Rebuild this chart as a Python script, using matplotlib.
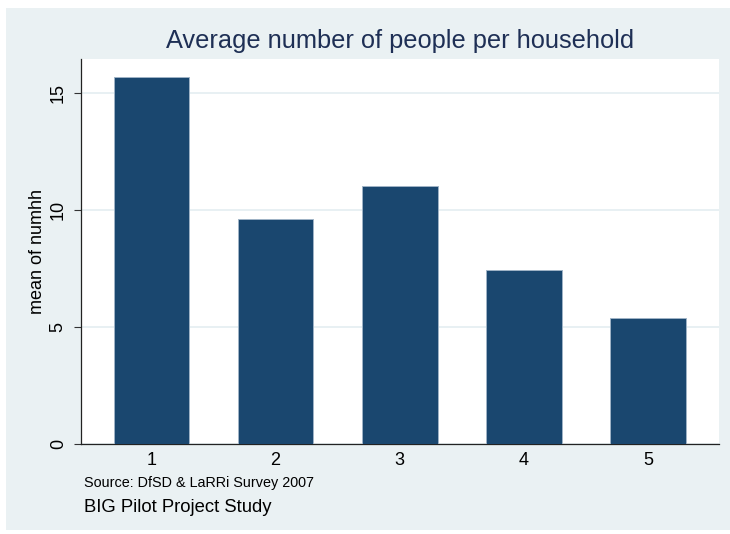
import matplotlib.pyplot as plt
from matplotlib.patches import Rectangle

groups = ["1", "2", "3", "4", "5"]
mean_numhh = [15.68, 9.61, 11.02, 7.42, 5.37]
y_ticks = [0, 5, 10, 15]

plt.rcParams['font.family'] = ['Liberation Sans', 'DejaVu Sans']

bg = '#EAF1F3'
navy = '#1A476F'

fig = plt.figure(figsize=(7.3, 5.34), dpi=100)
fig.patch.set_facecolor('white')
# outer graph region, drawn behind the axes
fig.add_artist(Rectangle((6 / 730, 4 / 534), 724 / 730, 522 / 534,
                         transform=fig.transFigure, facecolor=bg,
                         edgecolor='none', zorder=-10))

ax = fig.add_axes([80.7 / 730, 1 - 443.5 / 534, 638 / 730, 384.5 / 534])
ax.set_facecolor('white')

x = list(range(1, len(groups) + 1))
ax.bar(x, mean_numhh, width=0.61, color=navy, edgecolor='#9FB3C6',
       linewidth=0.7, zorder=3)

ax.set_xlim(1 - 0.57, 5 + 0.57)
ax.set_ylim(0, 16.45)
ax.set_yticks(y_ticks)
ax.set_yticklabels([str(t) for t in y_ticks], rotation=90, va='center',
                   fontsize=13)
ax.set_xticks(x)
ax.set_xticklabels(groups, fontsize=13)
ax.tick_params(axis='x', length=0, pad=6)
ax.tick_params(axis='y', length=5, width=0.8, color='#333333', pad=5)
ax.yaxis.grid(True, color='#E4EDF1', linewidth=1.2, zorder=0)
ax.set_axisbelow(True)

for side in ['top', 'right']:
    ax.spines[side].set_visible(False)
ax.spines['left'].set_color('#222222')
ax.spines['bottom'].set_color('#222222')
ax.spines['left'].set_linewidth(0.9)
ax.spines['bottom'].set_linewidth(0.9)

ax.set_ylabel('mean of numhh', fontsize=13, labelpad=3)
ax.set_title('Average number of people per household', fontsize=18.3,
             color='#1E2F55', pad=8)

fig.text(84 / 730, 1 - 483 / 534, 'Source: DfSD & LaRRi Survey 2007',
         fontsize=10.4, va='center', ha='left')
fig.text(84 / 730, 1 - 507 / 534, 'BIG Pilot Project Study',
         fontsize=13.3, va='center', ha='left')

fig.savefig('out.png', dpi=100, facecolor=fig.get_facecolor())
